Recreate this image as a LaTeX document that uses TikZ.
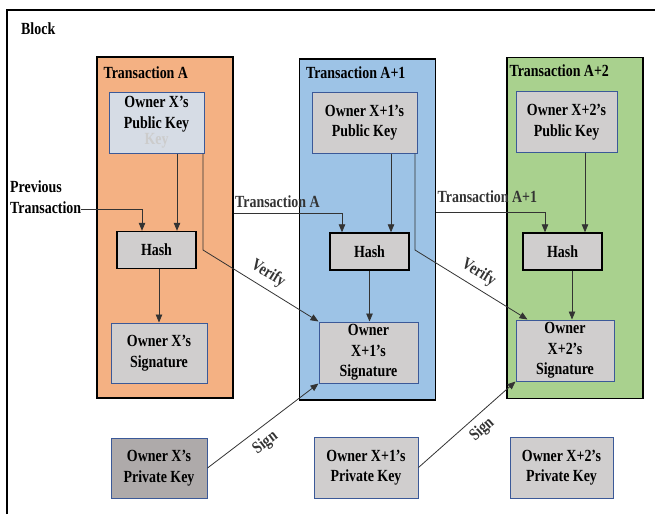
\documentclass[tikz,border=0pt]{standalone}
\usepackage{fontspec}
\setmainfont{Liberation Serif}[FakeStretch=0.82]
\usepackage{xcolor}
\usepackage{tikz}
\usetikzlibrary{arrows.meta, positioning, calc}
\definecolor{txacol}{RGB}{244,177,131}
\definecolor{txbcol}{RGB}{157,195,230}
\definecolor{txccol}{RGB}{169,209,142}
\definecolor{keycol}{RGB}{208,206,206}
\definecolor{pubacol}{RGB}{214,220,229}
\definecolor{privcol}{RGB}{174,170,170}
\definecolor{edgecol}{RGB}{59,89,152}

\begin{document}
\begin{tikzpicture}[x=1pt, y=-1pt,
  font=\fontsize{17}{20.5}\selectfont\bfseries,
  txbox/.style={draw=black, line width=1.4pt, minimum width=136pt,
                minimum height=341pt, inner sep=0pt},
  keybox/.style={draw=edgecol, line width=1pt, fill=keycol, minimum width=100pt,
                 minimum height=61pt, align=center, inner sep=2pt},
  hashbox/.style={draw=black, line width=1.4pt, fill=keycol, minimum width=79pt,
                  minimum height=37pt, inner sep=0pt},
  txtitle/.style={anchor=north west, inner sep=0pt},
  flow/.style={-{Triangle[length=8pt, width=6.5pt]}, line width=0.8pt, black!80},
  note/.style={inner sep=2pt}
]
  \useasboundingbox (0,0) rectangle (658,514);
  \draw[line width=1.8pt] (7,514) -- (7,10) -- (655,10);
  \node[txtitle] (block) at (21,23) {Block};

  \node[txbox, fill=txacol] (txA) at (165,227.5) {};
  \node[txbox, fill=txbcol] (txB) at (367.5,229.5) {};
  \node[txbox, fill=txccol] (txC) at (575,228) {};
  \node[txtitle] (titleA) at ([xshift=7pt, yshift=-10pt]txA.north west) {Transaction A};
  \node[txtitle] (titleB) at ([xshift=7pt, yshift=-8pt]txB.north west) {Transaction A+1};
  \node[txtitle] (titleC) at ([xshift=3pt, yshift=-8pt]txC.north west) {Transaction A+2};

  \node[keybox, fill=pubacol, minimum width=95pt, inner sep=0pt] (pubA) at (156.5,122.5)
    {Owner X's\\Public Key\\[-4pt]{\color{black!20}Key}};
  \node[keybox, minimum width=105pt] (pubB) at (364.5,122.5) {Owner X+1's\\Public Key};
  \node[keybox, minimum width=101pt] (pubC) at (566.5,122) {Owner X+2's\\Public Key};

  \node[hashbox] (hashA) at (156.5,250) {Hash};
  \node[hashbox] (hashB) at (369.5,251.5) {Hash};
  \node[hashbox] (hashC) at (562.5,251.5) {Hash};

  \node[keybox, minimum width=96pt, minimum height=60pt] (sigA) at (159,353)
    {Owner X's\\Signature};
  \node[keybox, minimum width=99pt] (sigB) at (368.5,352.5) {Owner\\X+1's\\Signature};
  \node[keybox, minimum width=98pt] (sigC) at (565,350.5) {Owner\\X+2's\\Signature};

  \node[keybox, fill=privcol, minimum width=96pt, minimum height=60pt] (privA)
    at (159,468) {Owner X's\\Private Key};
  \node[keybox, minimum width=104pt] (privB) at (366,467.5) {Owner X+1's\\Private Key};
  \node[keybox, minimum width=103pt] (privC) at (561.5,467.5) {Owner X+2's\\Private Key};

  \node[txtitle, align=left] (prev) at (10,181) {Previous\\Transaction};
  \draw[flow] ([yshift=4pt]prev.south east) -| ([xshift=-14.5pt]hashA.north);
  \draw[flow] ([yshift=14.5pt]txA.east) -| ([xshift=-27.5pt]hashB.north)
    node[pos=0, anchor=south west, inner sep=0pt, xshift=1pt, yshift=5pt] (lblA) {Transaction A};
  \draw[flow] ([yshift=17.5pt]txB.east) -| ([xshift=-17.5pt]hashC.north)
    node[pos=0, anchor=south west, inner sep=0pt, xshift=1pt, yshift=9pt] (lblB) {Transaction A+1};

  \draw[flow] ([xshift=20.5pt]pubA.south) -- ([xshift=20.5pt]hashA.north);
  \draw[flow] ([xshift=26.5pt]pubB.south) -- ([xshift=21.5pt]hashB.north);
  \draw[flow] ([xshift=18.5pt]pubC.south) -- ([xshift=22.5pt]hashC.north);

  \draw[flow] ([xshift=2.5pt]hashA.south) -- (sigA.north);
  \draw[flow] (hashB.south) -- ([xshift=1pt]sigB.north);
  \draw[flow] ([xshift=9.5pt]hashC.south) -- ([xshift=7pt]sigC.north);

  \coordinate (bendA) at (203,250);
  \coordinate (bendB) at (415,250);
  \draw[flow] (pubA.south east -| bendA) -- (bendA) -- (sigB.north west)
    node[midway, above=4pt, sloped, note] (vfyA) {Verify};
  \draw[flow] (pubB.south east -| bendB) -- (bendB) -- ([xshift=12pt]sigC.north west)
    node[midway, above=4pt, sloped, note] (vfyB) {Verify};

  \draw[flow] (privA.east) -- (sigB.south west)
    node[pos=0.44, below=5pt, sloped, note] (sgnA) {Sign};
  \draw[flow] (privB.east) -- (sigC.south west)
    node[pos=0.56, below=4pt, sloped, note] (sgnB) {Sign};
\end{tikzpicture}
\end{document}
